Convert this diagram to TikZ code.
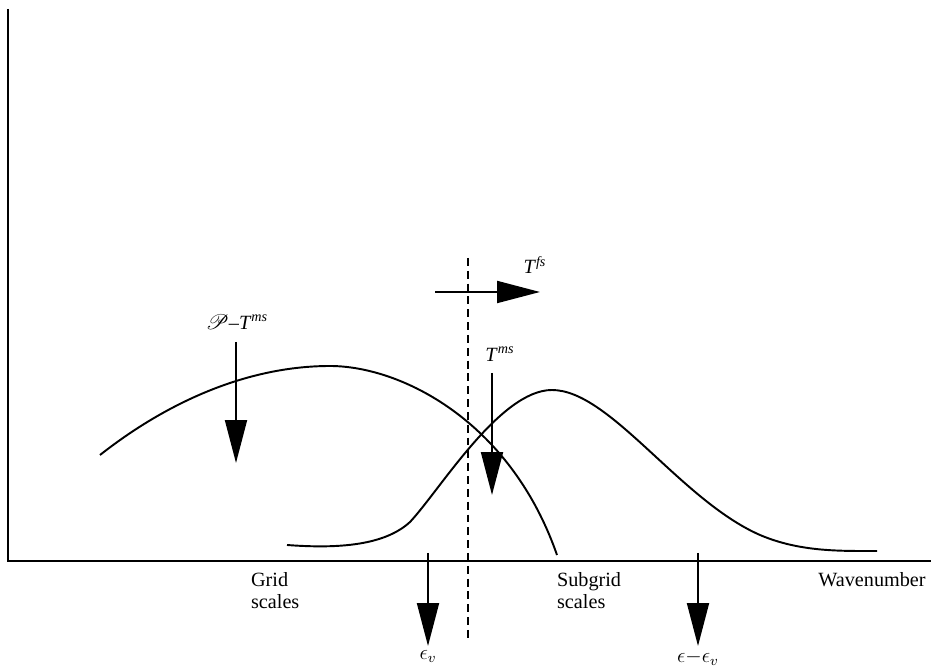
\documentclass[tikz,border=0pt]{standalone}
\usepackage{fontspec}
\setmainfont{Liberation Serif}
\usepackage{mathrsfs}
\usetikzlibrary{arrows.meta}
\tikzset{
  axis/.style={line width=1.1pt},
  spectrum/.style={line width=1.1pt},
  transfer/.style={line width=1.1pt,-{Triangle[length=0.86cm,width=0.44cm]}},
  cutoff/.style={line width=1.3pt,dash pattern=on 4.5pt off 2.8pt},
  lbl/.style={font=\fontsize{11.5}{12.5}\selectfont,inner sep=1pt},
  scalelbl/.style={lbl,align=left,anchor=west},
}
\begin{document}
\begin{tikzpicture}[x=0.02cm,y=-0.02cm]
  \useasboundingbox (0,0) rectangle (931,668);
  % axes
  \coordinate (origin) at (8,561);
  \coordinate (ytop) at (8,9);
  \coordinate (xend) at (931,561);
  \draw[axis] (ytop) -- (origin) -- (xend);
  % resolved and subgrid spectra
  \draw[spectrum] (100,455) .. controls (170,400) and (250,366) .. (330,366)
    .. controls (400,366) and (510,420) .. (557,555);
  \draw[spectrum] (287,545) .. controls (340,549) and (385,545) .. (410,522)
    .. controls (440,490) and (500,390) .. (552,390)
    .. controls (610,390) and (680,500) .. (760,535)
    .. controls (800,552) and (840,551) .. (877,551);
  % filter cutoff
  \coordinate (cutTop) at (468,258);
  \coordinate (cutBot) at (468,640);
  \draw[cutoff] (cutTop) -- (cutBot);
  % energy transfers
  \coordinate (fsTail) at (435,292);
  \coordinate (fsTip) at (540,292);
  \draw[transfer] (fsTail) -- (fsTip);
  \node[lbl] (fsLabel) at (535,265) {\textit{T}\textsuperscript{\textit{fs}}};
  \coordinate (ptTail) at (236,342);
  \coordinate (ptTip) at (236,463);
  \draw[transfer] (ptTail) -- (ptTip);
  \node[lbl] (ptLabel) at (237,322) {$\mathscr{P}$--\textit{T}\textsuperscript{\textit{ms}}};
  \coordinate (msTail) at (492,373);
  \coordinate (msTip) at (492,495);
  \draw[transfer] (msTail) -- (msTip);
  \node[lbl] (msLabel) at (500,354) {\textit{T}\textsuperscript{\textit{ms}}};
  % dissipation
  \foreach \name/\xpos/\txt in {ev/428/{$\epsilon_v$},eev/698/{$\epsilon{-}\epsilon_v$}}{
    \coordinate (\name Tail) at (\xpos,553);
    \coordinate (\name Tip) at (\xpos,646);
    \draw[transfer] (\name Tail) -- (\name Tip);
    \node[lbl,anchor=north] (\name Label) at (\xpos,648) {\txt};
  }
  % axis labels
  \node[scalelbl] (grid) at (249,591) {Grid\\scales};
  \node[scalelbl] (subgrid) at (555,591) {Subgrid\\scales};
  \node[lbl] (wavenumber) at (872,580) {Wavenumber};
\end{tikzpicture}
\end{document}
